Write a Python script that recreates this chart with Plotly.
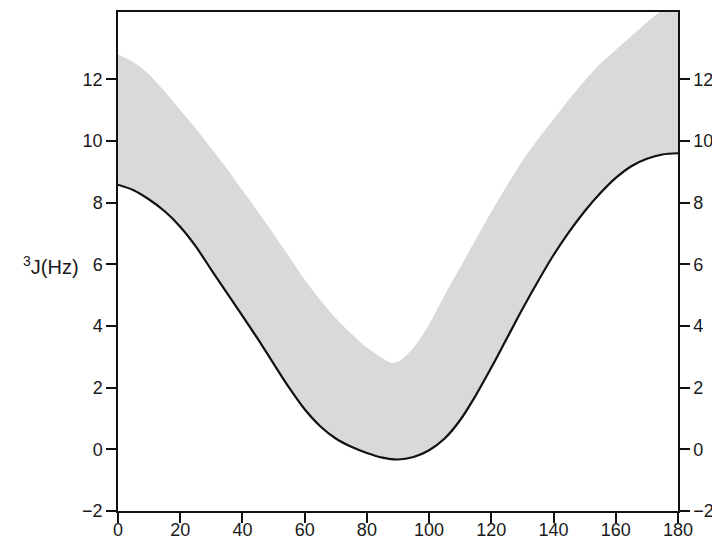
import plotly.graph_objects as go

# Dihedral angle (degrees) and coupling constant 3J (Hz)
angle_lower = [0, 5, 10, 15, 20, 25, 30, 35, 40, 45, 50, 55, 60, 65, 70, 75, 80, 85, 90,
               95, 100, 105, 110, 115, 120, 125, 130, 135, 140, 145, 150, 155, 160, 165, 170, 175, 180]
j_lower = [8.58, 8.4, 8.1, 7.72, 7.22, 6.58, 5.82, 5.07, 4.33, 3.57, 2.78, 2.0, 1.3, 0.75, 0.35, 0.08, -0.12,
           -0.27, -0.33, -0.25, -0.03, 0.35, 0.95, 1.75, 2.65, 3.6, 4.55, 5.45, 6.3, 7.05, 7.72, 8.3, 8.8,
           9.18, 9.42, 9.56, 9.6]

angle_upper = [0, 5, 10, 15, 20, 25, 30, 35, 40, 45, 50, 55, 60, 65, 70, 75, 80, 85, 88, 91,
               95, 100, 105, 110, 115, 120, 125, 130, 135, 140, 145, 150, 155, 160, 165, 170, 175, 180]
j_upper = [12.8, 12.55, 12.15, 11.6, 11.0, 10.4, 9.75, 9.1, 8.4, 7.7, 6.98, 6.25, 5.5, 4.85, 4.25, 3.75, 3.3,
           2.95, 2.8, 2.9, 3.3, 4.05, 5.0, 5.9, 6.8, 7.7, 8.55, 9.35, 10.05, 10.7, 11.35, 11.95, 12.5,
           12.95, 13.4, 13.85, 14.25, 14.65]

x_ticks = [0, 20, 40, 60, 80, 100, 120, 140, 160, 180]
y_ticks = [-2, 0, 2, 4, 6, 8, 10, 12]
y_ticklabels = ["\u22122", "0", "2", "4", "6", "8", "10", "12"]

font = dict(family="Liberation Sans, Arial, sans-serif", size=18, color="#1a1a1a")
title_font = dict(family="Liberation Sans, Arial, sans-serif", size=20, color="#1a1a1a")
yrange = [-2, 14.18]

W, H = 712, 543
ML, MR, MT, MB = 118, 34, 12, 32

fig = go.Figure()
fig.add_trace(go.Scatter(x=angle_lower, y=j_lower, mode="lines",
                         line=dict(width=0, shape="spline", smoothing=0.8, color="rgba(0,0,0,0)"),
                         showlegend=False, hoverinfo="skip"))
fig.add_trace(go.Scatter(x=angle_upper, y=j_upper, mode="lines", fill="tonexty",
                         fillcolor="#d9d9d9",
                         line=dict(width=0, shape="spline", smoothing=0.8, color="rgba(0,0,0,0)"),
                         showlegend=False))
fig.add_trace(go.Scatter(x=angle_lower, y=j_lower, mode="lines",
                         line=dict(width=2.2, shape="spline", smoothing=0.8, color="#111111"),
                         showlegend=False))
# invisible trace to activate right axis
fig.add_trace(go.Scatter(x=[0], y=[0], yaxis="y2", mode="markers",
                         marker=dict(opacity=0), showlegend=False, hoverinfo="skip"))

axis_common = dict(showgrid=False, zeroline=False, showline=True, linecolor="#111111",
                   linewidth=1.5, ticks="outside", tickcolor="#111111", tickwidth=1.5,
                   tickfont=font, automargin=False)

fig.update_layout(
    width=W, height=H,
    margin=dict(l=ML, r=MR, t=MT, b=MB, autoexpand=False),
    paper_bgcolor="white", plot_bgcolor="white",
    font=font,
    xaxis=dict(range=[0, 180], tickvals=x_ticks, ticklen=10, mirror=True,
               ticklabelstandoff=-8, **axis_common),
    yaxis=dict(range=yrange, tickvals=y_ticks, ticktext=y_ticklabels, ticklen=10, **axis_common),
    yaxis2=dict(range=yrange, tickvals=y_ticks, ticktext=y_ticklabels, ticklen=10,
                overlaying="y", side="right", **axis_common),
    annotations=[dict(text="<sup>3</sup>J(Hz)",
                      x=(51 - ML) / (W - ML - MR), y=1 - (265 - MT) / (H - MT - MB),
                      xref="paper", yref="paper", xanchor="center", yanchor="middle",
                      showarrow=False, font=title_font)],
)

fig.write_html("out.html", config={"displayModeBar": False},
               post_script="document.body.style.margin='0';document.body.style.overflow='hidden';")
